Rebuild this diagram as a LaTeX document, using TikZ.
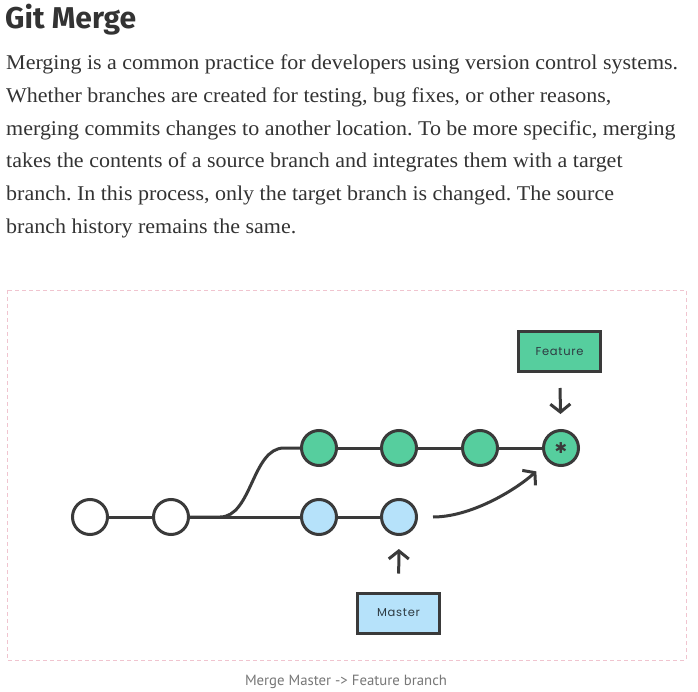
\documentclass[tikz,border=0pt]{standalone}
\usepackage{fontspec}
\setmainfont{Liberation Serif}
\newfontfamily\titlefont{Fira Sans}
\newfontfamily\capfont{PT Sans}
\newfontfamily\boxfont{Poppins}[LetterSpace=6]
\newfontfamily\symfont{DejaVu Sans}
\usetikzlibrary{arrows.meta}
\definecolor{ink}{HTML}{3A3A3A}
\definecolor{txt}{HTML}{333333}
\definecolor{gfill}{HTML}{56CE9E}
\definecolor{bfill}{HTML}{B6E2FA}
\definecolor{pinkd}{HTML}{F0C4CF}
\definecolor{capgray}{HTML}{777777}
\definecolor{boxtxt}{HTML}{2E3B42}
\newsavebox\lbox
\newcommand\bodyfnt{\fontsize{21}{25}\selectfont}
\frenchspacing
\begin{document}
\sbox\lbox{\bodyfnt Merging is a common practice for developers using version control systems.}
\pgfmathsetmacro\xs{672/\wd\lbox}
\begin{tikzpicture}[x=1pt,y=-1pt,
  commit/.style={circle,draw=ink,line width=3pt,minimum size=35pt,inner sep=0pt},
  plain/.style={commit,fill=white},
  feat/.style={commit,fill=gfill},
  mast/.style={commit,fill=bfill},
  label/.style={draw=ink,line width=3pt,minimum width=82pt,minimum height=40pt,inner sep=0pt,font=\boxfont\fontsize{11.5}{14}\selectfont,text=boxtxt},
  edge/.style={draw=ink,line width=3pt},
  ptr/.style={draw=ink,line width=3pt,-{Straight Barb[length=8pt,width=20pt,line width=3pt]}},
  bline/.style={anchor=base west,inner sep=0pt,text=txt}]
\useasboundingbox (0,0) rectangle (698,692);
\fill[white] (0,0) rectangle (698,692);
% title
\node[anchor=base west,inner sep=0pt,text=txt] (title) at (5,29)
  {\resizebox{131pt}{!}{\titlefont\bfseries\fontsize{30}{30}\selectfont Git Merge}};
% body
\node[bline] (l1) at (6,70) {\scalebox{\xs}[1]{\bodyfnt Merging is a common practice for developers using version control systems.}};
\node[bline] (l2) at (6,103) {\scalebox{\xs}[1]{\bodyfnt Whether branches are created for testing, bug fixes, or other reasons,}};
\node[bline] (l3) at (6,135.5) {\scalebox{\xs}[1]{\bodyfnt merging commits changes to another location. To be more specific, merging}};
\node[bline] (l4) at (6,168) {\scalebox{\xs}[1]{\bodyfnt takes the contents of a source branch and integrates them with a target}};
\node[bline] (l5) at (6,201) {\scalebox{\xs}[1]{\bodyfnt branch. In this process, only the target branch is changed. The source}};
\node[bline] (l6) at (6,233.5) {\scalebox{\xs}[1]{\bodyfnt branch history remains the same.}};
% frame
\draw[pinkd,line width=0.8pt,dash pattern=on 4pt off 3pt] (7,290) rectangle (686,660);
% commits
\node[plain] (w1) at (90,517) {};
\node[plain] (w2) at (171,517) {};
\node[mast] (b1) at (319,517) {};
\node[mast] (b2) at (399,517) {};
\node[feat] (g1) at (319,448) {};
\node[feat] (g2) at (399,448) {};
\node[feat] (g3) at (480,448) {};
\node[feat] (g4) at (561,448) {\symfont\fontsize{15}{15}\selectfont\textcolor{ink}{✱}};
% edges
\draw[edge] (w1) -- (w2);
\draw[edge] (w2) -- (b1);
\draw[edge] (b1) -- (b2);
\draw[edge] (g1) -- (g2);
\draw[edge] (g2) -- (g3);
\draw[edge] (g3) -- (g4);
\draw[edge] (w2.east) -- ++(30,0) .. controls +(32,0) and +(-32,0) .. ++(64,-69) -- (g1.west);
% labels
\node[label,fill=gfill] (feature) at (559.5,351.5) {Feature};
\node[label,fill=bfill] (master) at (398.5,613) {Master};
% pointers
\draw[ptr,shorten <=15pt,shorten >=15pt] (feature) -- (g4);
\draw[ptr,shorten <=18pt,shorten >=13pt] (master) -- (b2);
\draw[ptr,shorten <=15pt,shorten >=15pt] (b2.east) .. controls +(52,0) and +(-34,30) .. (g4.south west);
% caption
\node[inner sep=0pt,text=capgray] (cap) at (346,682)
  {\resizebox{202pt}{!}{\capfont\fontsize{14}{16}\selectfont Merge Master -> Feature branch}};
\end{tikzpicture}
\end{document}
